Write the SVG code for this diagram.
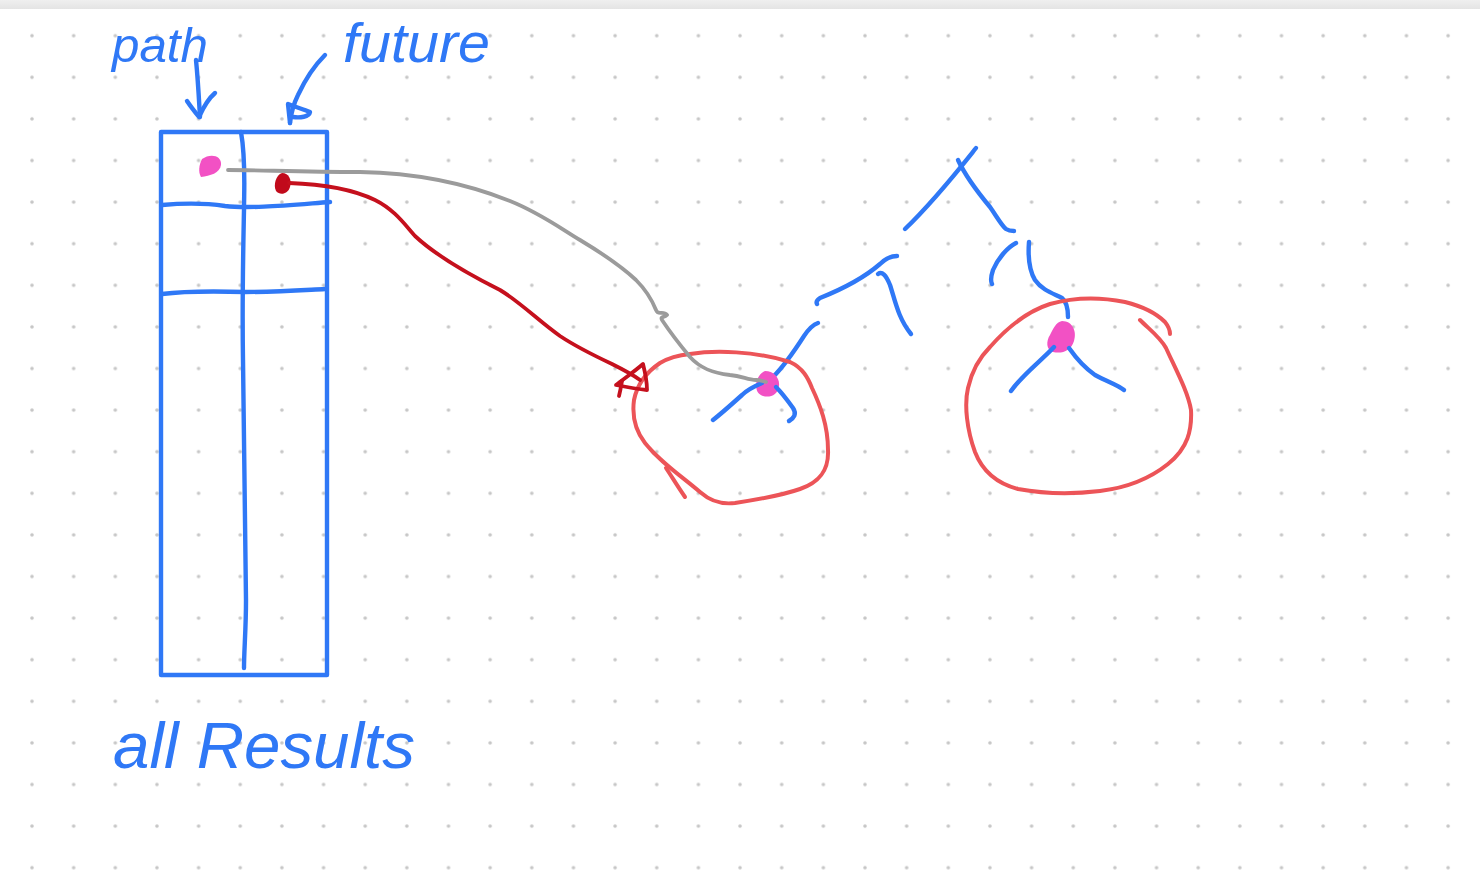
<svg xmlns="http://www.w3.org/2000/svg" width="1480" height="894" viewBox="0 0 1480 894">
  <defs>
    <pattern id="dots" x="32" y="35.7" width="41.65" height="41.6" patternUnits="userSpaceOnUse">
      <circle cx="0" cy="0" r="1.8" fill="#c6c6c6"/>
      <circle cx="41.65" cy="0" r="1.8" fill="#c6c6c6"/>
      <circle cx="0" cy="41.6" r="1.8" fill="#c6c6c6"/>
      <circle cx="41.65" cy="41.6" r="1.8" fill="#c6c6c6"/>
    </pattern>
    <linearGradient id="bar" x1="0" y1="0" x2="0" y2="1">
      <stop offset="0" stop-color="#efefef"/>
      <stop offset="1" stop-color="#e4e4e4"/>
    </linearGradient>
    <style>
      .ink { fill: none; stroke-linecap: round; stroke-linejoin: round; stroke-width: 4.4; }
      .blue { stroke: #2f78f6; }
      .red { stroke: #ec5458; stroke-width: 4; }
      .dred { stroke: #c5101d; stroke-width: 3.8; }
      .gray { stroke: #9b9b9b; stroke-width: 3.8; }
      .hand { font-family: "Liberation Sans", Arial, sans-serif; font-style: italic; fill: #2f78f6; }
    </style>
  </defs>
  <rect width="1480" height="894" fill="#ffffff"/>
  <rect x="0" y="0" width="1480" height="894" fill="url(#dots)"/>
  <rect x="0" y="0" width="1480" height="9" fill="url(#bar)"/>

  <g id="label-path">
    <text class="hand" x="112" y="62" font-size="48" textLength="96" lengthAdjust="spacingAndGlyphs">path</text>
  </g>
  <g id="label-future">
    <text class="hand" x="343" y="62" font-size="56" textLength="147" lengthAdjust="spacingAndGlyphs">future</text>
  </g>
  <g id="label-allResults">
    <text class="hand" x="113" y="768" font-size="64" textLength="302" lengthAdjust="spacingAndGlyphs">all Results</text>
  </g>

  <g id="allResults-array">
    <rect class="ink blue" x="161" y="132" width="166" height="543"/>
    <path class="ink blue" d="M 241 132 C 246 160 244 190 244 210 C 243 260 242 300 243 360 C 244 450 245 540 246 600 C 246 630 244 650 244 668"/>
    <path class="ink blue" d="M 162 205 C 185 203 205 203 225 206 C 250 209 290 205 330 202"/>
    <path class="ink blue" d="M 162 294 C 185 291 210 291 245 292 C 280 292 305 290 325 289"/>
    <path d="M 202 159 C 210 153 222 155 221 165 C 220 173 210 176 201 177 C 198 172 199 165 202 159 Z" fill="#f251c4"/>
    <path d="M 282 173 C 289 173 292 180 290 187 C 288 194 280 196 276 191 C 273 185 276 175 282 173 Z" fill="#c10a1b"/>
  </g>

  <g id="tree">
    <path class="ink blue" d="M 976 148 C 960 168 935 200 905 229"/>
    <path class="ink blue" d="M 958 160 C 965 175 980 195 990 207 C 997 217 1002 226 1006 229 C 1009 231 1012 231 1014 231"/>
    <path class="ink blue" d="M 897 256 C 890 256 885 259 880 264 C 865 277 840 290 820 298 C 817 300 816 302 817 304"/>
    <path class="ink blue" d="M 878 274 C 882 271 886 275 890 285 C 895 300 898 318 911 334"/>
    <path class="ink blue" d="M 1016 243 C 1008 247 998 258 993 270 C 991 276 990 280 992 284"/>
    <path class="ink blue" d="M 1029 242 C 1028 255 1029 270 1035 280 C 1042 290 1052 293 1062 298 C 1067 302 1068 310 1068 317"/>
    <path d="M 1062 321 C 1073 321 1077 332 1074 341 C 1071 351 1062 354 1053 352 C 1046 350 1046 341 1050 335 C 1053 329 1056 322 1062 321 Z" fill="#f251c4"/>
    <path class="ink blue" d="M 1054 347 C 1042 360 1022 375 1011 391"/>
    <path class="ink blue" d="M 1069 348 C 1076 358 1085 368 1095 375 C 1108 382 1118 385 1124 390"/>
    <path class="ink blue" d="M 818 323 C 812 325 808 330 804 336 C 795 350 785 365 773 377"/>
    <path d="M 765 371 C 774 371 780 378 779 386 C 778 395 770 398 763 396 C 756 394 755 386 757 380 C 759 375 762 372 765 371 Z" fill="#f251c4"/>
    <path class="ink blue" d="M 762 383 C 755 386 748 389 742 395 C 732 404 722 413 713 420"/>
    <path class="ink blue" d="M 776 387 C 782 393 788 401 793 408 C 797 414 794 418 789 421"/>
  </g>

  <g id="subtree-left">
    <path class="ink red" d="M 690 354 C 715 350 755 351 790 362 C 803 368 808 378 812 388 C 820 405 828 425 828 450 C 829 470 820 482 800 489 C 780 496 755 500 735 503 C 718 505 708 499 700 492 C 680 475 660 462 645 443 C 635 430 632 415 634 400 C 637 385 645 373 660 363 C 670 357 680 355 690 354"/>
    <path class="ink red" d="M 666 468 C 672 477 678 487 685 497"/>
  </g>

  <g id="subtree-right">
    <path class="ink red" d="M 1140 320 C 1150 330 1160 337 1166 348 C 1176 370 1188 392 1191 410 C 1192 430 1188 448 1168 464 C 1148 480 1125 488 1100 491 C 1075 494 1045 494 1018 489 C 995 483 982 470 975 452 C 967 430 964 405 968 388 C 972 370 980 357 990 347 C 1005 330 1025 312 1050 304 C 1075 297 1100 297 1125 302 C 1145 307 1158 315 1165 322 C 1169 327 1170 330 1170 334"/>
  </g>

  <g id="connectors">
    <path class="ink blue" d="M 196 60 C 198 80 199 100 200 117"/>
    <path class="ink blue" d="M 187 101 C 191 107 195 112 199 117 C 203 108 208 99 215 93"/>
    <path class="ink blue" d="M 325 55 C 315 65 305 80 298 95 C 293 105 291 114 290 123"/>
    <path class="ink blue" d="M 290 123 L 288 104 C 295 107 303 109 310 112 C 309 117 300 118 293 117"/>
    <path class="ink gray" d="M 228 170 C 260 170 300 172 360 172 C 420 173 470 185 510 201 C 540 213 560 228 580 240 C 600 252 620 265 636 280 C 646 290 652 300 656 310 C 658 316 663 310 667 315 C 664 318 660 316 662 320 C 670 332 680 345 690 357 C 700 368 712 373 730 375 C 742 376 748 380 756 380 C 760 380 763 381 766 382"/>
    <path class="ink dred" d="M 289 183 C 320 184 350 188 375 200 C 395 210 405 225 415 236 C 430 250 460 270 500 290 C 520 302 540 322 560 336 C 575 346 595 356 612 364 C 622 369 632 374 640 380"/>
    <path class="ink dred" d="M 643 364 C 645 372 647 382 647 390 C 636 389 626 387 616 385 C 625 378 635 371 643 364 Z"/>
    <path class="ink dred" d="M 622 381 C 621 387 620 392 619 396"/>
  </g>
</svg>
